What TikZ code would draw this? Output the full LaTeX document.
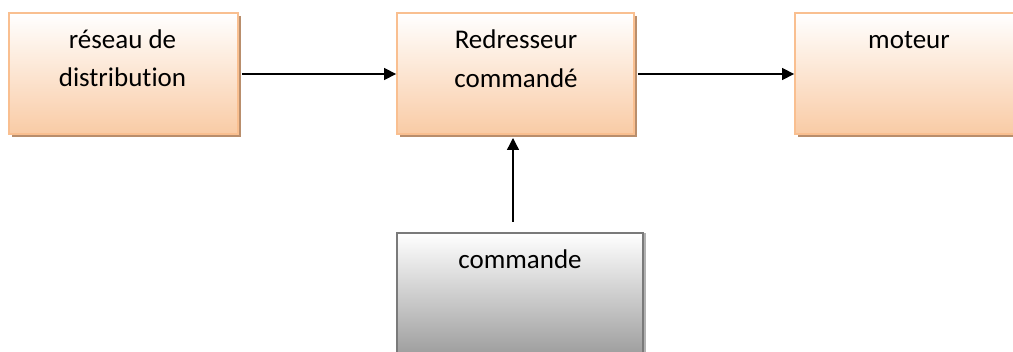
\documentclass[tikz,border=0pt]{standalone}
\usepackage{fontspec}
\setmainfont[Ligatures=NoCommon]{Carlito}
\usetikzlibrary{arrows.meta,shadows}
\definecolor{peach}{HTML}{F9CBA5}
\definecolor{peachline}{HTML}{F9BF90}
\definecolor{shadowbrown}{HTML}{B98E6C}
\definecolor{grayline}{HTML}{7A7A7A}
\definecolor{graybot}{HTML}{949494}
\tikzset{
  block/.style={draw=peachline, line width=1.8pt, top color=white, bottom color=peach,
    inner sep=0pt, general shadow={fill=shadowbrown, shadow xshift=3pt, shadow yshift=-3pt}},
  cmdblock/.style={draw=grayline, line width=1.8pt, top color=white, bottom color=graybot,
    inner sep=0pt, general shadow={fill=gray!60, shadow xshift=3pt, shadow yshift=0pt}},
  lbl/.style={anchor=base, inner sep=0pt, font=\fontsize{27pt}{33pt}\selectfont},
  conn/.style={line width=1.3pt, -{Triangle[length=12pt,width=12pt]}}
}
\begin{document}
\begin{tikzpicture}[x=1pt,y=-1pt]
\useasboundingbox (0,0) rectangle (1013,352);
\node[block, minimum width=229pt, minimum height=121pt] (b1) at (123.5,73.5) {};
\node[block, minimum width=237pt, minimum height=121pt] (b2) at (515.5,73.5) {};
\node[block, minimum width=232pt, minimum height=121pt] (b3) at (911,73.5) {};
\node[cmdblock, minimum width=246pt, minimum height=134pt] (b4) at (520,300) {};
\node[lbl] (t1a) at (122.5,49) {réseau de};
\node[lbl] (t1b) at (122.5,87) {distribution};
\node[lbl] (t2a) at (516,49) {Redresseur};
\node[lbl] (t2b) at (516,88) {commandé};
\node[lbl] (t3) at (909,49) {moteur};
\node[lbl] (t4) at (520,269) {commande};
\coordinate (a1s) at (b1.east |- 0,74);
\coordinate (a1e) at (b2.west |- 0,74);
\coordinate (a2s) at (b2.east |- 0,74);
\coordinate (a2e) at (b3.west |- 0,74);
\draw[conn] ([xshift=3pt]a1s) -- (a1e);
\draw[conn] ([xshift=3pt]a2s) -- (a2e);
\coordinate (v1) at (513,222);
\coordinate (v2) at (513,138);
\draw[conn] (v1) -- (v2);
\end{tikzpicture}
\end{document}
